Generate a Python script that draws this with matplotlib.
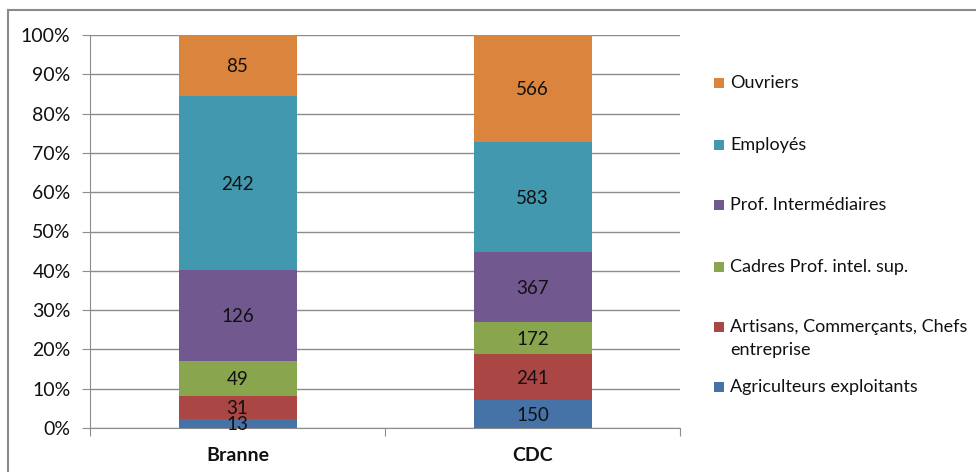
import matplotlib
matplotlib.use("Agg")
import matplotlib.pyplot as plt
from matplotlib.patches import Rectangle
from matplotlib.lines import Line2D
import numpy as np

categories = ["Branne", "CDC"]
series_names = [
    "Agriculteurs exploitants",
    "Artisans, Commerçants, Chefs\nentreprise",
    "Cadres Prof. intel. sup.",
    "Prof. Intermédiaires",
    "Employés",
    "Ouvriers",
]
branne_values = [13, 31, 49, 126, 242, 85]
cdc_values = [150, 241, 172, 367, 583, 566]
y_tick_labels = ["0%", "10%", "20%", "30%", "40%", "50%", "60%", "70%", "80%", "90%", "100%"]

colors = ["#4572A7", "#AA4643", "#89A54E", "#71588F", "#4198AF", "#DB843D"]

plt.rcParams["font.family"] = ["Lato", "DejaVu Sans"]

W, H = 976, 472
fig = plt.figure(figsize=(W / 100, H / 100), dpi=100)
fig.patch.set_facecolor("white")

ax = fig.add_axes([90 / W, (H - 428) / H, (680 - 90) / W, (428 - 35) / H])

data = np.array([branne_values, cdc_values], dtype=float)  # shape (category, series)
shares = data / data.sum(axis=1, keepdims=True) * 100

x = np.arange(len(categories))
bottom = np.zeros(len(categories))
for i, name in enumerate(series_names):
    ax.bar(x, shares[:, i], width=0.4, bottom=bottom, color=colors[i],
           edgecolor="none", zorder=3)
    for j in range(len(categories)):
        yc = bottom[j] + shares[j, i] / 2
        ax.text(x[j], yc - 0.3, f"{int(data[j, i])}", ha="center", va="center",
                fontsize=13.5, color="#111111", zorder=4)
    bottom += shares[:, i]

ax.set_xlim(-0.5, len(categories) - 0.5)
ax.set_ylim(0, 100)
ax.set_yticks(np.arange(0, 101, 10))
ax.set_yticklabels(y_tick_labels, fontsize=14, color="#111111")
ax.yaxis.grid(True, color="#8c8c8c", linewidth=1.0, zorder=0)
ax.tick_params(axis="y", length=6, color="#8c8c8c", pad=8)

ax.set_xticks([-0.5, 0.5, 1.5])
ax.set_xticklabels([])
ax.tick_params(axis="x", length=6, color="#8c8c8c")
for j, cat in enumerate(categories):
    ax.text(x[j], -6.9, cat, ha="center", va="center", fontsize=14,
            fontweight="bold", color="#111111")

for s in ["top", "right"]:
    ax.spines[s].set_visible(False)
ax.spines["left"].set_color("#8c8c8c")
ax.spines["bottom"].set_color("#8c8c8c")

# Legend, listed top to bottom in reverse stacking order
legend_rows = [83, 145, 205, 267, 327, 387]
for row_y, i in zip(legend_rows, reversed(range(len(series_names)))):
    fig.patches.append(Rectangle((714 / W, (H - row_y - 5) / H), 10 / W, 10 / H,
                                 transform=fig.transFigure, facecolor=colors[i],
                                 edgecolor="none"))
    lines = series_names[i].split("\n")
    for n, line in enumerate(lines):
        fig.text(730 / W, (H - row_y - n * 23) / H, line, ha="left", va="center",
                 fontsize=13, color="#111111")

# Chart frame (left and top edges)
fig.lines.append(Line2D([8 / W, 8 / W], [0, (H - 10) / H], transform=fig.transFigure,
                        color="#8a8a8a", linewidth=1.5))
fig.lines.append(Line2D([8 / W, 1], [(H - 10) / H, (H - 10) / H], transform=fig.transFigure,
                        color="#8a8a8a", linewidth=1.5))

fig.savefig("out.png", dpi=100)
